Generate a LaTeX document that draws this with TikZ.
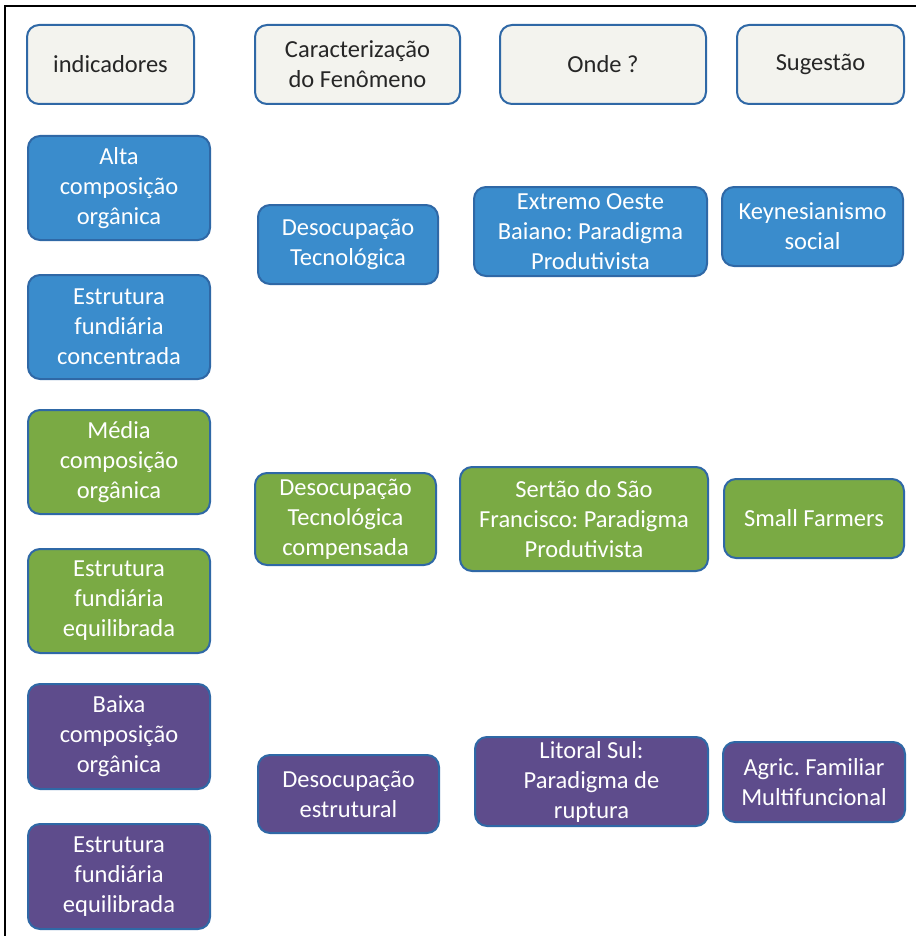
\documentclass[tikz,border=0pt]{standalone}
\usepackage{fontspec}
\setmainfont{Carlito}
\usepackage{tikz}
\frenchspacing

\definecolor{hdrfill}{RGB}{243,243,238}
\definecolor{edgeblue}{RGB}{47,104,166}
\definecolor{boxblue}{RGB}{58,140,204}
\definecolor{boxgreen}{RGB}{122,170,68}
\definecolor{boxpurple}{RGB}{94,76,140}

\begin{document}
\begin{tikzpicture}[x=1pt,y=-1pt,
  cell/.style={draw=edgeblue, line width=2pt, rounded corners=12pt, align=center,
    inner sep=2pt, font=\fontsize{24.5}{30}\selectfont, text=white},
  hdr/.style={cell, fill=hdrfill, text=black!85},
  blu/.style={cell, fill=boxblue},
  grn/.style={cell, fill=boxgreen},
  pur/.style={cell, fill=boxpurple}]
\useasboundingbox (0,0) rectangle (916,936);
\draw[line width=2pt] (5,936) -- (5,6) -- (916,6);
% headers
\node[hdr, minimum width=167pt, minimum height=79pt] (ind) at (110.5,64.5) {indicadores};
\node[hdr, minimum width=205pt, minimum height=79pt] (car) at (357.5,64.5) {Caracterização\\do Fenômeno};
\node[hdr, minimum width=206pt, minimum height=79pt] (onde) at (603,64.5) {Onde ?};
\node[hdr, minimum width=167pt, minimum height=79pt] (sug) at (820.5,64.5) {Sugestão};
% indicadores
\node[blu, minimum width=182pt, minimum height=104pt] (altacomp) at (119,188) {Alta\\composição\\orgânica};
\node[blu, minimum width=182pt, minimum height=104pt] (estconc) at (119,327) {Estrutura\\fundiária\\concentrada};
\node[grn, minimum width=182pt, minimum height=104pt] (mediacomp) at (119,462) {Média\\composição\\orgânica};
\node[grn, minimum width=182pt, minimum height=104pt] (esteq) at (119,601) {Estrutura\\fundiária\\equilibrada};
\node[pur, minimum width=182pt, minimum height=105pt] (baixacomp) at (119,736.5) {Baixa\\composição\\orgânica};
\node[pur, minimum width=182pt, minimum height=105pt] (esteqb) at (119,876.5) {Estrutura\\fundiária\\equilibrada};
% caracterizacao
\node[blu, minimum width=180pt, minimum height=79pt] (destec) at (348,244.5) {Desocupação\\Tecnológica};
\node[grn, minimum width=181pt, minimum height=92pt] (descomp) at (345.5,519) {Desocupação\\Tecnológica\\compensada};
\node[pur, minimum width=181pt, minimum height=78pt] (desest) at (348.5,794) {Desocupação\\estrutural};
% onde
\node[blu, minimum width=233pt, minimum height=89pt] (oeste) at (590.5,231.5) {Extremo Oeste\\Baiano: Paradigma\\Produtivista};
\node[grn, minimum width=248pt, minimum height=104pt] (sertao) at (584,519) {Sertão do São\\Francisco: Paradigma\\Produtivista};
\node[pur, minimum width=233pt, minimum height=89pt] (litoral) at (591.5,781.5) {Litoral Sul:\\Paradigma de\\ruptura};
% sugestao
\node[blu, minimum width=181pt, minimum height=79pt] (keynes) at (812.5,226.5) {Keynesianismo\\social};
\node[grn, minimum width=180pt, minimum height=79pt] (farmers) at (814,518.5) {Small Farmers};
\node[pur, minimum width=182pt, minimum height=80pt] (agric) at (814,782) {Agric. Familiar\\Multifuncional};
\end{tikzpicture}
\end{document}
